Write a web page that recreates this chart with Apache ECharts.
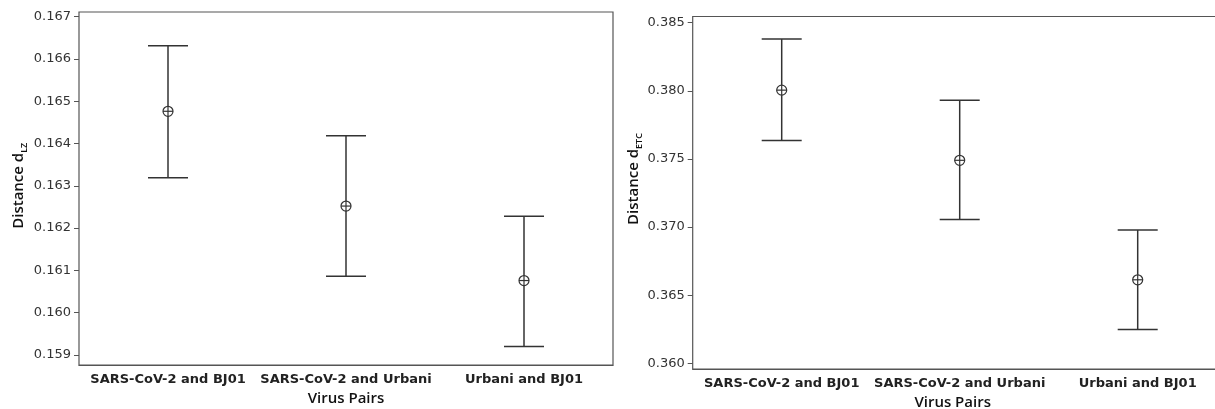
<!DOCTYPE html>
<html>
<head>
<meta charset="utf-8">
<title>Distance by virus pair</title>
<script src="https://cdn.jsdelivr.net/npm/echarts@6/dist/echarts.min.js"></script>
<style>
  html, body { margin: 0; padding: 0; background: #fff; }
  #chart { width: 1215px; height: 409px; }
</style>
</head>
<body>
<div id="chart"></div>
<script>
// categories
const pairs = ['SARS-CoV-2 and BJ01', 'SARS-CoV-2 and Urbani', 'Urbani and BJ01']

// left panel: d_LZ (mean with interval)
const lzMean = [0.16476, 0.16252, 0.16076]
const lzLow = [0.16319, 0.16086, 0.15920]
const lzHigh = [0.16631, 0.16418, 0.16228]
const lzTicks = { min: 0.159, max: 0.167, step: 0.001 }

// right panel: d_ETC
const etcMean = [0.38005, 0.37490, 0.36613]
const etcLow = [0.37636, 0.37056, 0.36248]
const etcHigh = [0.38380, 0.37930, 0.36978]
const etcTicks = { min: 0.360, max: 0.385, step: 0.005 }

const myChart = echarts.init(document.getElementById('chart'))

const lineColor = '#333'
const frameColor = '#555'

// one item per category: [index, low, high, mean]
const toItems = (low, high, mean) => pairs.map((p, i) => [i, low[i], high[i], mean[i]])

const renderInterval = (params, api) => {
  const x = api.value(0)
  const lo = api.coord([x, api.value(1)])
  const hi = api.coord([x, api.value(2)])
  const mid = api.coord([x, api.value(3)])
  const cap = 20
  const r = 5
  const style = { stroke: lineColor, lineWidth: 1.5, fill: null }
  return {
    type: 'group',
    children: [
      { type: 'line', shape: { x1: hi[0], y1: hi[1], x2: lo[0], y2: lo[1] }, style },
      { type: 'line', shape: { x1: hi[0] - cap, y1: hi[1], x2: hi[0] + cap, y2: hi[1] }, style },
      { type: 'line', shape: { x1: lo[0] - cap, y1: lo[1], x2: lo[0] + cap, y2: lo[1] }, style },
      { type: 'circle', shape: { cx: mid[0], cy: mid[1], r }, style: { stroke: lineColor, lineWidth: 1.2, fill: '#fff' } },
      { type: 'line', shape: { x1: mid[0] - r, y1: mid[1], x2: mid[0] + r, y2: mid[1] }, style: { stroke: lineColor, lineWidth: 1.2 } },
      { type: 'line', shape: { x1: mid[0], y1: mid[1] - r, x2: mid[0], y2: mid[1] + r }, style: { stroke: lineColor, lineWidth: 1.2 } },
    ],
  }
}

const titleRich = {
  a: { fontFamily: 'Open Sans', fontWeight: 600, fontSize: 15, color: '#111', lineHeight: 20 },
  b: { fontFamily: 'Open Sans', fontWeight: 600, fontSize: 9, color: '#111', lineHeight: 10, verticalAlign: 'bottom' },
}

// frame grid (box + category axis) and value grid (ticks at round values)
const frameX = (gridIndex, gap, pad) => ({
  type: 'category',
  gridIndex,
  data: pairs,
  name: 'Virus Pairs',
  nameLocation: 'middle',
  nameGap: gap,
  nameTextStyle: { fontFamily: 'Open Sans', fontWeight: 600, fontSize: 15, color: '#111', padding: pad },
  axisLine: { lineStyle: { color: frameColor, width: 1.2 } },
  axisTick: { alignWithLabel: true, length: 3, lineStyle: { color: frameColor } },
  axisLabel: { interval: 0, hideOverlap: false, fontFamily: 'DejaVu Sans', fontWeight: 'bold', fontSize: 13, color: '#222', margin: 8 },
})

const dataX = (gridIndex) => ({ type: 'category', gridIndex, data: pairs, show: false })

const dataY = (gridIndex, ticks, name, gap, pad) => ({
  type: 'value',
  gridIndex,
  min: ticks.min,
  max: ticks.max,
  interval: ticks.step,
  name,
  nameLocation: 'middle',
  nameGap: gap,
  nameTextStyle: { rich: titleRich, padding: pad },
  axisLine: { show: false },
  axisTick: { show: true, length: 5, lineStyle: { color: frameColor } },
  axisLabel: {
    fontFamily: 'DejaVu Sans',
    fontSize: 13,
    color: '#333',
    margin: 8,
    formatter: (v) => v.toFixed(3),
  },
  splitLine: { show: false },
})

const gridBase = { outerBoundsMode: 'none', containLabel: false }

const option = {
  backgroundColor: '#fff',
  animation: false,
  grid: [
    { ...gridBase, left: 79, top: 12, width: 534, height: 353, show: true, borderColor: frameColor, borderWidth: 1.2 },
    { ...gridBase, left: 79, top: 16.5, width: 534, height: 338.5 },
    { ...gridBase, left: 692.7, top: 16.5, width: 534, height: 352.5, show: true, borderColor: frameColor, borderWidth: 1.2 },
    { ...gridBase, left: 692.7, top: 22.7, width: 534, height: 340.6 },
  ],
  xAxis: [frameX(0, 26, 0), dataX(1), frameX(2, 24, [0, 14, 0, 0]), dataX(3)],
  yAxis: [
    { type: 'value', gridIndex: 0, show: false, min: 0, max: 1 },
    dataY(1, lzTicks, '{a|Distance d}{b|LZ}', 50, 0),
    { type: 'value', gridIndex: 2, show: false, min: 0, max: 1 },
    dataY(3, etcTicks, '{a|Distance d}{b|ETC}', 44, [0, 0, 0, 28]),
  ],
  series: [
    {
      type: 'custom',
      xAxisIndex: 1,
      yAxisIndex: 1,
      renderItem: renderInterval,
      data: toItems(lzLow, lzHigh, lzMean),
    },
    {
      type: 'custom',
      xAxisIndex: 3,
      yAxisIndex: 3,
      renderItem: renderInterval,
      data: toItems(etcLow, etcHigh, etcMean),
    },
  ],
}

myChart.setOption(option)
</script>
</body>
</html>
